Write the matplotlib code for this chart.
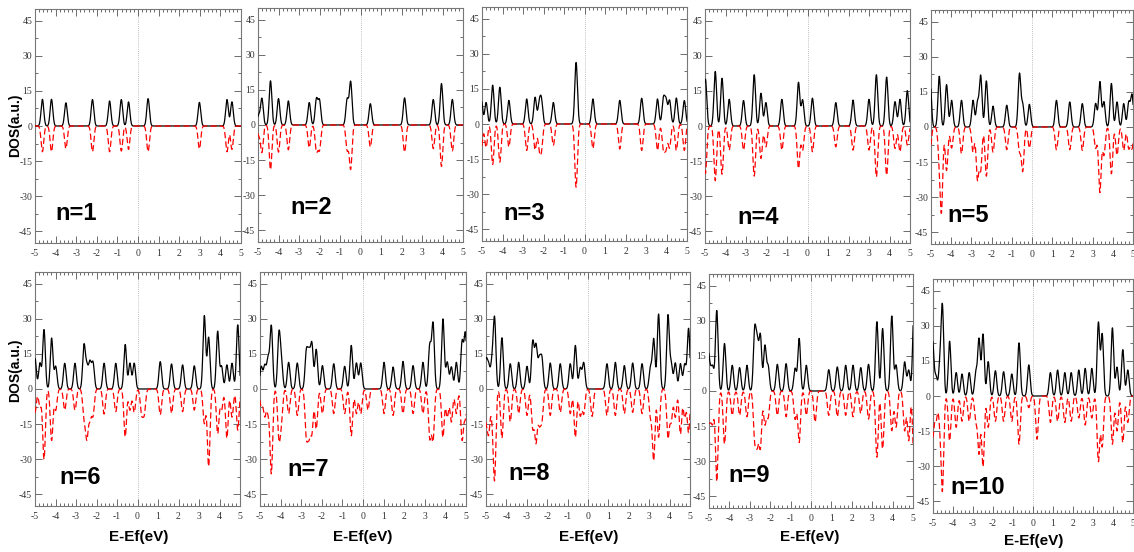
import numpy as np
import matplotlib
matplotlib.use("Agg")
import matplotlib.pyplot as plt
from matplotlib.ticker import MultipleLocator

plt.rcParams["axes.unicode_minus"] = False

# ---------------- data: peak energies (eV) and heights (a.u.) ----------------
n1_E  = [-4.64, -4.20, -3.50, -2.21, -1.38, -0.81, -0.46, 0.49, 2.98, 4.32, 4.56]
n1_up = [11.4, 11.4, 9.9, 11.3, 10.7, 11.3, 10.3, 11.7, 10.1, 11.3, 10.3]
n1_dn = [11.0, 11.0, 9.7, 11.0, 11.0, 10.7, 10.0, 11.0, 9.8, 11.0, 10.0]

n2_E  = [-4.97, -4.81, -4.39, -4.00, -3.52, -2.50, -2.15, -2.00, -0.65, -0.48, 0.48, 2.15, 3.55, 3.95, 4.48]
n2_up = [4.0, 11.3, 18.9, 11.3, 10.3, 9.6, 10.9, 10.3, 10.9, 18.4, 9.1, 11.6, 10.9, 17.7, 10.9]
n2_dn = [4.0, 11.6, 19.1, 11.6, 10.6, 9.7, 10.9, 10.3, 10.5, 18.7, 9.4, 11.6, 10.1, 17.7, 11.1]

n3_E  = [-5.03, -4.80, -4.48, -4.13, -3.69, -2.82, -2.41, -2.21, -2.10, -1.52, -0.41, 0.41, 1.72, 2.79,
         3.56, 3.85, 3.98, 4.15, 4.48, 4.87]
n3_up = [10.1, 9.2, 16.6, 15.7, 10.1, 10.7, 11.4, 8.0, 9.5, 9.2, 26.3, 10.7, 10.1, 11.0,
         10.7, 10.5, 9.5, 10.0, 11.1, 10.0]
n3_dn = [10.0, 10.0, 17.3, 16.3, 9.8, 11.3, 11.0, 9.0, 10.0, 9.1, 27.0, 10.5, 10.7, 11.3,
         11.3, 10.5, 9.5, 10.0, 11.3, 11.3]

n4_E  = [-4.98, -4.50, -4.17, -3.82, -3.12, -2.60, -2.27, -2.03, -1.25, -0.44, -0.24, 0.24, 1.38, 2.22,
         3.00, 3.36, 3.86, 4.27, 4.51, 4.87]
n4_up = [20.0, 23.3, 20.4, 11.4, 10.9, 21.9, 14.0, 10.0, 11.4, 18.6, 11.1, 11.9, 10.0, 11.1,
         11.4, 21.9, 20.9, 10.4, 11.4, 15.1]
n4_dn = [20.3, 23.4, 20.6, 10.3, 10.3, 21.4, 13.9, 8.9, 10.3, 18.1, 10.3, 11.0, 8.9, 10.3,
         10.3, 21.7, 21.0, 9.6, 11.0, 8.1]

n5_E  = [-5.05, -4.59, -4.48, -4.23, -3.98, -3.49, -2.92, -2.70, -2.54, -2.26, -1.93, -1.25, -0.62,
         -0.46, -0.13, 1.21, 1.87, 2.49, 3.15, 3.36, 3.56, 3.93, 4.21, 4.54, 4.79, 4.95]
n5_up = [20.7, 21.7, 0.0, 18.1, 11.4, 11.4, 11.4, 10.3, 21.7, 19.7, 8.9, 9.3, 22.6,
         9.3, 9.7, 11.4, 10.7, 10.0, 10.0, 19.3, 10.7, 18.6, 10.7, 10.0, 10.4, 13.6]
n5_dn = [10.0, 12.0, 33.6, 18.6, 9.0, 11.4, 10.7, 22.0, 17.9, 21.0, 10.7, 9.7, 10.0,
         18.6, 9.0, 9.7, 9.7, 10.0, 9.0, 27.9, 12.0, 20.0, 12.0, 10.0, 9.0, 9.0]

n6_E  = [-5.00, -4.76, -4.56, -4.19, -3.99, -3.55, -3.05, -2.61, -2.47, -2.32, -2.17, -1.63, -1.06,
         -0.60, -0.37, -0.16, 0.20, 0.33, 1.11, 1.66, 2.20, 2.77, 3.26, 3.47, 3.91, 4.10, 4.36,
         4.61, 4.89]
n6_up = [13.0, 11.0, 25.3, 21.7, 9.6, 11.0, 11.0, 18.4, 9.0, 11.0, 11.0, 11.0, 11.0,
         19.0, 11.0, 11.0, 0.0, 0.0, 11.7, 10.7, 10.3, 9.9, 31.3, 22.0, 24.6, 9.6, 10.3,
         11.0, 27.4]
n6_dn = [10.0, 7.6, 30.0, 21.9, 9.0, 9.0, 9.0, 11.4, 20.0, 11.9, 11.0, 10.7, 9.7,
         20.4, 9.0, 10.0, 10.0, 10.0, 11.0, 10.4, 9.7, 9.0, 14.7, 33.0, 19.0, 9.0, 21.0,
         12.0, 17.6]

n7_E  = [-4.94, -4.77, -4.61, -4.45, -4.08, -3.96, -3.61, -3.19, -2.75, -2.62, -2.48, -2.27, -1.97,
         -1.42, -0.89, -0.57, -0.32, -0.11, 0.24, 1.02, 1.46, 1.94, 2.43, 2.91, 3.24, 3.40, 3.88,
         4.09, 4.29, 4.53, 4.81, 4.97]
n7_up = [9.4, 9.7, 12.6, 26.7, 22.9, 10.8, 11.4, 11.1, 15.4, 14.0, 18.6, 16.9, 10.0,
         10.8, 9.7, 18.6, 11.1, 11.1, 0.0, 11.4, 9.4, 11.8, 10.0, 11.4, 18.3, 27.7, 29.9,
         11.4, 9.4, 11.4, 19.8, 23.4]
n7_dn = [7.6, 11.3, 9.0, 35.8, 20.0, 12.0, 10.5, 11.3, 19.2, 17.7, 17.7, 17.0, 10.5,
         10.5, 10.5, 20.0, 10.5, 10.5, 9.0, 10.5, 11.3, 10.5, 10.5, 10.5, 20.6, 21.4, 20.6,
         12.0, 14.0, 10.5, 21.4, 12.0]

n8_E  = [-5.00, -4.87, -4.71, -4.58, -4.22, -3.81, -3.40, -2.99, -2.71, -2.55, -2.39, -2.26, -1.85,
         -1.36, -0.87, -0.62, -0.38, -0.21, 0.20, 0.93, 1.34, 1.78, 2.19, 2.65, 3.06, 3.22, 3.46,
         3.92, 4.08, 4.28, 4.53, 4.74, 4.93]
n8_up = [11.8, 9.4, 10.4, 29.6, 21.9, 10.8, 11.4, 9.7, 20.0, 18.0, 11.8, 12.6, 11.1,
         10.8, 10.8, 18.6, 8.9, 11.1, 0.0, 10.8, 11.4, 10.0, 11.1, 10.8, 8.9, 21.2, 32.0,
         31.3, 10.4, 11.1, 10.8, 10.4, 25.8]
n8_dn = [12.0, 17.7, 9.0, 38.0, 21.0, 14.0, 10.5, 11.3, 16.3, 22.0, 13.4, 12.7, 11.3,
         10.0, 10.5, 20.6, 11.3, 10.5, 11.7, 11.3, 11.3, 10.5, 10.0, 10.5, 11.3, 30.0, 20.6,
         20.6, 13.4, 12.0, 19.2, 12.0, 18.5]

n9_E  = [-5.07, -4.95, -4.82, -4.62, -4.24, -3.86, -3.50, -3.14, -2.76, -2.63, -2.48, -2.26, -2.10,
         -1.65, -1.22, -0.78, -0.58, -0.23, 0.20, 0.87, 1.29, 1.70, 2.06, 2.44, 2.82, 3.23, 3.51,
         3.96, 4.17, 4.59, 4.79, 5.05]
n9_up = [17.4, 7.7, 9.6, 34.3, 20.3, 11.0, 10.0, 11.0, 25.3, 18.9, 23.1, 19.1, 10.3,
         11.4, 11.7, 9.6, 22.4, 11.0, 0.0, 9.1, 10.3, 11.0, 11.0, 10.0, 11.4, 29.6, 26.7,
         32.0, 11.0, 12.4, 8.9, 35.7]
n9_dn = [11.0, 10.0, 12.6, 38.6, 22.6, 10.4, 10.4, 11.0, 19.7, 20.4, 23.3, 14.0, 11.0,
         10.4, 11.0, 12.0, 21.9, 10.4, 13.3, 10.4, 11.0, 10.4, 11.0, 9.6, 12.0, 28.3, 24.7,
         16.9, 15.4, 16.9, 21.1, 29.7]

n10_E  = [-5.02, -4.85, -4.66, -4.53, -4.17, -3.84, -3.55, -3.19, -2.86, -2.70, -2.50, -2.24, -1.88,
          -1.47, -1.06, -0.70, -0.21, 0.20, 0.87, 1.23, 1.59, 1.91, 2.29, 2.61, 2.94, 3.27, 3.46,
          3.97, 4.20, 4.49, 4.74]
n10_up = [23.4, 8.2, 12.3, 37.8, 23.4, 10.0, 9.4, 10.0, 9.7, 24.1, 26.3, 14.7, 10.8,
          10.4, 9.4, 22.7, 13.3, 0.0, 10.0, 11.1, 10.0, 10.0, 11.1, 11.8, 11.8, 31.3, 26.3,
          29.1, 12.3, 19.8, 11.1]
n10_dn = [17.7, 10.5, 10.0, 39.4, 19.2, 13.4, 10.8, 10.8, 10.0, 24.2, 30.0, 13.4, 10.8,
          10.8, 10.8, 20.6, 5.0, 18.5, 11.3, 10.8, 11.3, 10.8, 9.4, 12.4, 9.4, 27.8, 21.4,
          20.6, 14.9, 19.9, 11.3]

panel_labels = ["n=1", "n=2", "n=3", "n=4", "n=5", "n=6", "n=7", "n=8", "n=9", "n=10"]
panel_data = [(n1_E, n1_up, n1_dn), (n2_E, n2_up, n2_dn), (n3_E, n3_up, n3_dn),
              (n4_E, n4_up, n4_dn), (n5_E, n5_up, n5_dn), (n6_E, n6_up, n6_dn),
              (n7_E, n7_up, n7_dn), (n8_E, n8_up, n8_dn), (n9_E, n9_up, n9_dn),
              (n10_E, n10_up, n10_dn)]
x_ticks = [-5, -4, -3, -2, -1, 0, 1, 2, 3, 4, 5]
y_ticks = [-45, -30, -15, 0, 15, 30, 45]

# ---------------- layout (pixels) ----------------
W, H = 1134, 552
fig = plt.figure(figsize=(W / 100, H / 100), dpi=100)
fig.patch.set_facecolor("white")

# (x of E=-5, x of E=+5, y of DOS=0)
layout = [(35, 241, 126), (258, 463, 125), (482, 687, 124), (705, 910, 126), (931, 1133, 127),
          (35, 240, 389), (260, 466, 389), (486, 690, 389), (709, 913, 391), (933, 1133, 396)]
HALF = 117  # pixels for 50 DOS units
label_pos = [(76, 213), (311, 208), (524, 213), (758, 218), (968, 215),
             (80, 477), (308, 470), (529, 473), (749, 475), (978, 488)]
xlab_pos = [(139, 537), (363, 537), (589, 537), (810, 537), (1034, 541)]

SIG = 0.065
grid = np.linspace(-5.5, 5.5, 2751)


def broaden(E, h):
    E = np.asarray(E, float)
    h = np.asarray(h, float)
    return (h[:, None] * np.exp(-(grid[None, :] - E[:, None]) ** 2 / (2 * SIG ** 2))).sum(axis=0)


serif = ["Liberation Serif", "DejaVu Serif"]
sans = ["Liberation Sans", "DejaVu Sans"]

for i, ((E, up, dn), (xl, xr, y0)) in enumerate(zip(panel_data, layout)):
    ax = fig.add_axes([xl / W, 1 - (y0 + HALF) / H, (xr - xl) / W, 2 * HALF / H])
    ax.set_xlim(-5, 5)
    ax.set_ylim(-50, 50)
    ax.axvline(0, color="#aaaaaa", lw=0.6, ls=(0, (1, 1.5)), zorder=1)
    ax.plot(grid, broaden(E, up), color="black", lw=0.9, zorder=3)
    ax.plot(grid, -broaden(E, dn), color="red", lw=0.9, ls=(0, (5, 2.5)), zorder=4)
    ax.set_xticks(x_ticks)
    ax.set_yticks(y_ticks)
    ax.xaxis.set_minor_locator(MultipleLocator(0.2))
    ax.yaxis.set_minor_locator(MultipleLocator(7.5))
    ax.tick_params(which="both", direction="in", top=True, right=True, colors="#555555",
                   labelcolor="#333333", labelsize=7, width=0.6)
    ax.tick_params(which="major", length=5)
    ax.tick_params(which="minor", length=2.5)
    ax.tick_params(axis="x", pad=4)
    ax.tick_params(axis="y", pad=2)
    for lab in ax.get_xticklabels() + ax.get_yticklabels():
        lab.set_family(serif)
    for sp in ax.spines.values():
        sp.set_color("#777777")
        sp.set_linewidth(0.8)
    lx, ly = label_pos[i]
    fig.text(lx / W, 1 - ly / H, panel_labels[i], ha="center", va="center",
             fontsize=17, fontweight="bold", family=sans)

for (x, y) in xlab_pos:
    fig.text(x / W, 1 - y / H, "E-Ef(eV)", ha="center", va="center",
             fontsize=11, fontweight="bold", family=sans)

for y in (125, 370):
    fig.text(15 / W, 1 - y / H, "DOS(a.u.)", ha="center", va="center", rotation=90,
             fontsize=10, fontweight="bold", family=sans)

fig.savefig("out.png", dpi=100, facecolor="white")
